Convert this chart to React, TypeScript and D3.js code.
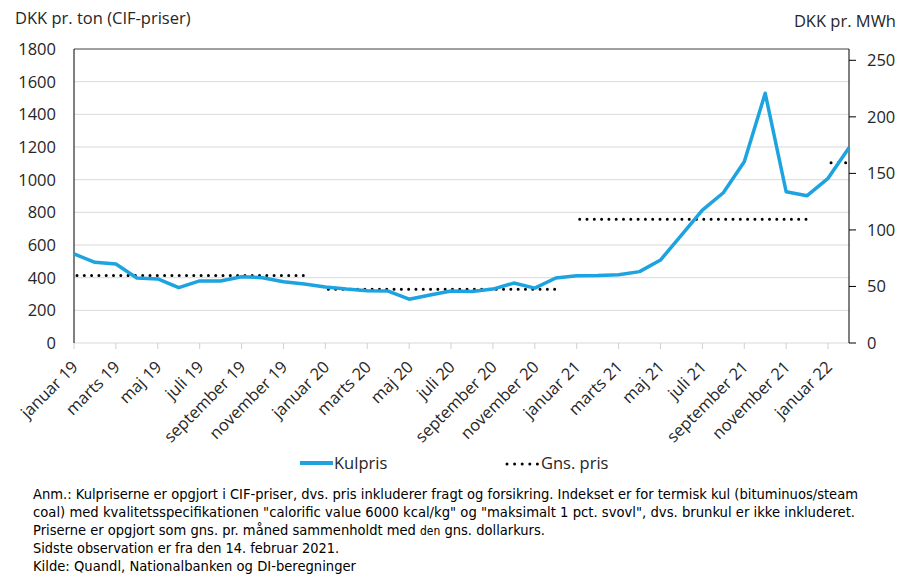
import React from 'react';
import * as d3 from 'd3';

// Kulpris, DKK pr. ton, monthly from januar 19 to februar 22
const monthNames = ['januar', 'februar', 'marts', 'april', 'maj', 'juni', 'juli', 'august', 'september', 'oktober', 'november', 'december'];
const years = ['19', '20', '21', '22'];
const categories = years.flatMap((yr) => monthNames.map((m) => `${m} ${yr}`)).slice(0, 38);

const kulpris = [
  545, 494, 484, 398, 392, 339, 380, 380, 406, 400, 375, 361,
  343, 330, 320, 318, 268, 294, 318, 316, 330, 367, 336, 398,
  412, 413, 418, 437, 508, 660, 814, 920, 1110, 1529, 926, 902,
  1008, 1195,
];

// yearly average price (dotted segments)
const gnsYears = ['19', '20', '21', '22'];
const gnsPris = [413, 329, 757, 1104];

const leftTicks = [0, 200, 400, 600, 800, 1000, 1200, 1400, 1600, 1800];
const rightTicks = [0, 50, 100, 150, 200, 250];

const notes = [
  'Anm.: Kulpriserne er opgjort i CIF-priser, dvs. pris inkluderer fragt og forsikring. Indekset er for termisk kul (bituminuos/steam',
  'coal) med kvalitetsspecifikationen "calorific value 6000 kcal/kg" og "maksimalt 1 pct. svovl", dvs. brunkul er ikke inkluderet.',
  'Sidste observation er fra den 14. februar 2021.',
  'Kilde: Quandl, Nationalbanken og DI-beregninger',
];

const W = 904;
const H = 576;
const left = 74;
const right = 849;
const top = 49;
const bottom = 343;

const font = "'Open Sans', Lato, sans-serif";
const narrow = "'Liberation Sans Narrow', 'Arial Narrow', 'DejaVu Sans Condensed', 'Liberation Sans', sans-serif";
const blue = '#1ca3e0';
const ink = '#262626';
const fs = 16.5;

export default function App() {
  const x = d3.scalePoint<string>().domain(categories).range([left, right]);
  const y = d3.scaleLinear().domain([0, 1800]).range([bottom, top]);
  const yR = d3.scaleLinear().domain([0, 260]).range([bottom, top]);

  const linePath = d3
    .line<number>()
    .x((_, i) => x(categories[i]) as number)
    .y((d) => y(d))(kulpris);

  const segments = gnsYears.map((yr, k) => {
    const idx = categories.map((c, i) => (c.endsWith(yr) ? i : -1)).filter((i) => i >= 0);
    return {
      x1: x(categories[idx[0]]) as number,
      x2: x(categories[idx[idx.length - 1]]) as number,
      v: gnsPris[k],
    };
  });

  const labelled = categories.filter((_, i) => i % 2 === 0);

  return (
    <svg width={W} height={H} style={{ position: 'absolute', left: 0, top: 0, background: '#fff' }}>
      {/* axis titles */}
      <text x={15} y={24} fontFamily={font} fontSize={fs} fill={ink}>DKK pr. ton (CIF-priser)</text>
      <text x={896} y={27} textAnchor="end" fontFamily={font} fontSize={fs} fill={ink}>DKK pr. MWh</text>

      {/* gridlines */}
      {leftTicks.map((t) => (
        <line key={t} x1={left} x2={right} y1={y(t)} y2={y(t)} stroke={t === 1800 ? '#404040' : '#d9d9d9'} strokeWidth={1} />
      ))}
      {leftTicks.map((t) => (
        <text key={t} x={56} y={y(t)} dy="0.36em" textAnchor="end" fontFamily={font} fontSize={fs} fill={ink}>{t}</text>
      ))}

      {/* bottom ticks and labels */}
      {labelled.map((c) => (
        <g key={c}>
          <line x1={x(c)} x2={x(c)} y1={bottom} y2={bottom + 6} stroke="#d0d0d0" />
          <text
            transform={`translate(${(x(c) as number) + 5},${bottom + 25}) rotate(-45)`}
            textAnchor="end"
            fontFamily={font}
            fontSize={fs}
            fill={ink}
          >
            {c}
          </text>
        </g>
      ))}

      {/* left axis */}
      <line x1={left} x2={left} y1={top} y2={bottom} stroke="#000" />
      {/* right axis */}
      <line x1={right} x2={right} y1={top} y2={bottom} stroke="#000" />
      {rightTicks.map((t) => (
        <g key={t}>
          <line x1={right} x2={right + 7} y1={yR(t)} y2={yR(t)} stroke="#000" />
          <text x={867} y={yR(t)} dy="0.36em" fontFamily={font} fontSize={fs} fill={ink}>{t}</text>
        </g>
      ))}

      {/* average price */}
      {segments.map((s, i) => (
        <line
          key={i}
          x1={s.x1 + 3}
          x2={s.x2}
          y1={y(s.v)}
          y2={y(s.v)}
          stroke="#000"
          strokeWidth={3}
          strokeLinecap="round"
          strokeDasharray="0 7.3"
        />
      ))}

      {/* coal price */}
      <path d={linePath ?? ''} fill="none" stroke={blue} strokeWidth={3.5} strokeLinejoin="round" />

      {/* legend */}
      <line x1={300} x2={333} y1={463} y2={463} stroke={blue} strokeWidth={4} />
      <text x={334} y={463} dy="0.36em" fontFamily={font} fontSize={fs} fill={ink}>Kulpris</text>
      <line x1={507} x2={538} y1={464} y2={464} stroke="#000" strokeWidth={3} strokeLinecap="round" strokeDasharray="0 7.6" />
      <text x={541} y={463} dy="0.36em" fontFamily={font} fontSize={fs} fill={ink}>Gns. pris</text>

      {/* notes */}
      <g fontFamily={narrow} fontSize={14} fill="#000">
        <text x={33} y={499} textLength={825} lengthAdjust="spacingAndGlyphs">{notes[0]}</text>
        <text x={33} y={517} textLength={822} lengthAdjust="spacingAndGlyphs">{notes[1]}</text>
        <text x={33} y={535} textLength={512} lengthAdjust="spacingAndGlyphs">
          Priserne er opgjort som gns. pr. måned sammenholdt med <tspan fontSize={11.5}>den</tspan> gns. dollarkurs.
        </text>
        <text x={33} y={553} textLength={306} lengthAdjust="spacingAndGlyphs">{notes[2]}</text>
        <text x={33} y={571} textLength={323} lengthAdjust="spacingAndGlyphs">{notes[3]}</text>
      </g>
    </svg>
  );
}
